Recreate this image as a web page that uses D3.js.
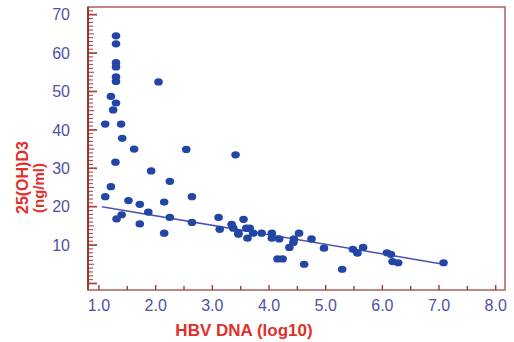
<!DOCTYPE html>
<html>
<head>
<meta charset="utf-8">
<script src="https://cdn.jsdelivr.net/npm/d3@7"></script>
<style>
  body { margin: 0; background: #fff; }
  svg { display: block; }
</style>
</head>
<body>
<svg id="chart"></svg>
<script>
let width = 514,
    height = 342;

// HBV DNA (log10) vs 25(OH)D3 (ng/ml)
let hbvDna = [1.30, 1.30, 1.30, 1.30, 1.30, 1.30, 2.05, 1.21, 1.30, 1.25,
    1.11, 1.39, 1.41, 1.62, 2.54, 3.41, 1.29, 1.92, 1.21, 2.25,
    1.11, 2.64, 1.52, 1.72, 2.15, 1.87, 1.31, 1.40, 2.25, 1.72,
    2.64, 2.15, 3.11, 3.13, 3.34, 3.55, 3.37, 3.46, 3.60, 3.62,
    3.72, 3.87, 4.05, 4.05, 4.18, 4.15, 4.24, 4.36, 4.43, 4.44,
    4.53, 4.75, 4.62, 4.97, 5.29, 5.48, 5.56, 5.66, 6.08, 6.15,
    6.18, 6.28, 7.08, 3.66, 3.46];
let vitD = [64.5, 62.4, 57.5, 56.4, 53.8, 52.6, 52.5, 48.7, 47.0, 45.2,
    41.5, 41.5, 37.8, 35.0, 34.9, 33.5, 31.6, 29.3, 25.2, 26.6,
    22.6, 22.6, 21.6, 20.6, 21.2, 18.6, 16.8, 17.9, 17.2, 15.5,
    15.9, 13.1, 17.2, 14.1, 15.4, 16.7, 14.4, 13.1, 14.4, 11.8,
    13.1, 13.1, 13.1, 11.8, 11.6, 6.4, 6.4, 9.4, 10.7, 11.6,
    13.1, 11.6, 5.0, 9.2, 3.7, 8.9, 7.9, 9.4, 8.0, 7.6,
    5.7, 5.4, 5.4, 14.4, 12.8];

// regression line ends
let fitX = [1.05, 7.05];
let fitY = [20.0, 5.1];

let xTicks = [1, 2, 3, 4, 5, 6, 7, 8];
let yTicks = [10, 20, 30, 40, 50, 60, 70];

let plotLeft = 88, plotRight = 505, plotTop = 7, plotBottom = 290;

let x = d3.scaleLinear()
    .domain([0.806, 8.164])
    .range([plotLeft, plotRight]);

let y = d3.scaleLinear()
    .domain([-1.7, 72])
    .range([plotBottom, plotTop]);

let svg = d3.select('#chart')
    .attr('width', width)
    .attr('height', height)
    .style('font-family', 'Arial, "Liberation Sans", sans-serif');

// frame
svg.append('rect')
    .attr('x', plotLeft)
    .attr('y', plotTop)
    .attr('width', plotRight - plotLeft)
    .attr('height', plotBottom - plotTop)
    .style('fill', 'none')
    .style('stroke', '#b06a62')
    .style('stroke-width', 1.6);

svg.append('line')
    .attr('x1', plotLeft).attr('x2', plotLeft)
    .attr('y1', plotTop).attr('y2', plotBottom)
    .style('stroke', '#9a3a30')
    .style('stroke-width', 2);

// y ticks, pointing inward
let yMinor = d3.range(0, 72, 1);
svg.append('g').selectAll('line')
    .data(yMinor)
    .enter()
    .append('line')
    .attr('x1', plotLeft)
    .attr('x2', function(d) { return plotLeft + (d % 10 === 0 ? 9 : (d % 5 === 0 ? 6 : 5)); })
    .attr('y1', function(d) { return y(d); })
    .attr('y2', function(d) { return y(d); })
    .style('stroke', '#9a2a22')
    .style('stroke-width', function(d) { return d % 10 === 0 ? 1.8 : 1.1; })
    .style('opacity', 0.85);

// x ticks, pointing inward
let xMinor = d3.range(1, 8.01, 0.5);
svg.append('g').selectAll('line')
    .data(xMinor)
    .enter()
    .append('line')
    .attr('x1', function(d) { return x(d); })
    .attr('x2', function(d) { return x(d); })
    .attr('y1', plotBottom)
    .attr('y2', function(d) { return plotBottom - (d % 1 === 0 ? 5 : 4); })
    .style('stroke', '#9a3a30')
    .style('stroke-width', 1.4);

// tick labels
svg.append('g').selectAll('text')
    .data(yTicks)
    .enter()
    .append('text')
    .attr('x', 70)
    .attr('y', function(d) { return y(d); })
    .attr('dy', '0.36em')
    .attr('text-anchor', 'end')
    .style('font-size', '16px')
    .style('fill', '#4f4fa6')
    .text(function(d) { return d; });

svg.append('g').selectAll('text')
    .data(xTicks)
    .enter()
    .append('text')
    .attr('x', function(d) { return x(d); })
    .attr('y', 311)
    .attr('text-anchor', 'middle')
    .style('font-size', '16px')
    .style('fill', '#4f4fa6')
    .text(function(d) { return d3.format('.1f')(d); });

// axis titles
svg.append('text')
    .attr('x', 244)
    .attr('y', 336)
    .attr('text-anchor', 'middle')
    .style('font-size', '17px')
    .style('font-weight', 'bold')
    .style('fill', '#e0302a')
    .text('HBV DNA (log10)');

svg.append('text')
    .attr('transform', 'translate(28,214) rotate(-90)')
    .attr('text-anchor', 'start')
    .style('font-size', '16px')
    .style('font-weight', 'bold')
    .style('fill', '#e0302a')
    .text('25(OH)D3');

svg.append('text')
    .attr('transform', 'translate(44,213) rotate(-90)')
    .attr('text-anchor', 'start')
    .style('font-size', '15px')
    .style('font-weight', 'bold')
    .style('fill', '#e0302a')
    .text('(ng/ml)');

// regression line
svg.append('line')
    .attr('x1', x(fitX[0]))
    .attr('y1', y(fitY[0]))
    .attr('x2', x(fitX[1]))
    .attr('y2', y(fitY[1]))
    .style('stroke', '#4a55b0')
    .style('stroke-width', 1.5);

// points
svg.append('g').selectAll('ellipse')
    .data(hbvDna)
    .enter()
    .append('ellipse')
    .attr('cx', function(d) { return x(d); })
    .attr('cy', function(d, i) { return y(vitD[i]); })
    .attr('rx', 4.3)
    .attr('ry', 3.6)
    .style('fill', '#2346a6');
</script>
</body>
</html>
